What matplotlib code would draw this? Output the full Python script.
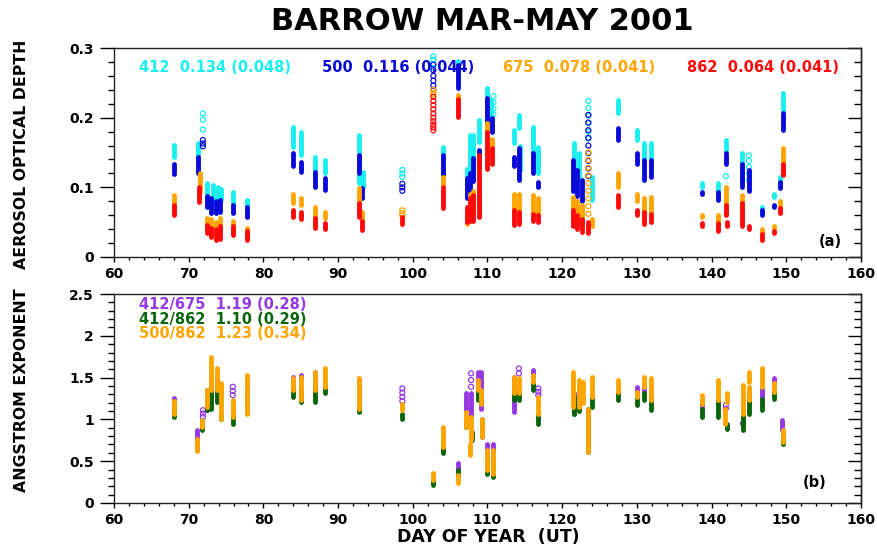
import matplotlib
matplotlib.use("Agg")
import matplotlib.pyplot as plt

# ---------------- Panel (a): aerosol optical depth ----------------
# vertical streaks of dense observations: day, low value, high value
aod412_day = [68.0, 71.2, 72.5, 73.2, 73.9, 74.3, 75.9, 77.8, 83.9, 85.1, 86.9, 88.2,
              92.8, 93.3, 104.0, 106.1, 107.2, 107.6, 108.1, 108.9, 110.0, 110.5,
              113.5, 114.2, 114.3, 116.1, 116.8, 121.6, 122.2, 124.0, 127.5, 130.0,
              131.0, 131.9, 138.7, 140.9, 141.9, 144.1, 146.8, 148.4, 149.2, 149.6]
aod412_lo = [0.144, 0.144, 0.084, 0.082, 0.080, 0.082, 0.075, 0.072, 0.158, 0.146, 0.120, 0.120,
             0.106, 0.101, 0.146, 0.262, 0.094, 0.124, 0.113, 0.165, 0.186, 0.190,
             0.163, 0.185, 0.125, 0.150, 0.120, 0.120, 0.110, 0.082, 0.206, 0.168,
             0.139, 0.139, 0.101, 0.094, 0.154, 0.111, 0.067, 0.086, 0.108, 0.211]
aod412_hi = [0.161, 0.164, 0.106, 0.104, 0.100, 0.098, 0.094, 0.082, 0.187, 0.180, 0.144, 0.139,
             0.175, 0.122, 0.158, 0.282, 0.127, 0.175, 0.175, 0.197, 0.242, 0.225,
             0.182, 0.204, 0.160, 0.187, 0.158, 0.163, 0.150, 0.115, 0.225, 0.182,
             0.163, 0.163, 0.106, 0.106, 0.168, 0.150, 0.072, 0.091, 0.115, 0.235]
aod412_pt_day = [71.9, 71.9, 71.9, 98.6, 98.6, 98.6, 102.75, 102.75, 102.75, 102.75,
                 110.8, 110.8, 110.8, 110.8, 123.5, 123.5, 123.5, 123.5, 123.5, 123.5,
                 141.9, 145.0, 145.0, 145.0, 145.0, 145.0]
aod412_pt_val = [0.206, 0.197, 0.183, 0.125, 0.120, 0.115, 0.288, 0.283, 0.277, 0.271,
                 0.231, 0.222, 0.213, 0.205, 0.224, 0.214, 0.203, 0.192, 0.180, 0.170,
                 0.116, 0.146, 0.138, 0.129, 0.120, 0.111]

aod500_day = [68.0, 71.2, 72.4, 73.0, 73.7, 74.2, 75.9, 77.8, 83.9, 85.1, 86.9, 88.2,
              92.8, 93.2, 104.0, 106.1, 107.2, 107.6, 108.1, 108.9, 110.0, 110.6,
              113.5, 114.2, 116.1, 116.8, 121.4, 122.0, 122.6, 127.5, 130.0, 131.0,
              131.9, 138.7, 140.9, 141.9, 144.1, 145.0, 146.8, 148.4, 149.2, 149.6]
aod500_lo = [0.119, 0.120, 0.072, 0.063, 0.063, 0.065, 0.063, 0.058, 0.130, 0.122, 0.101, 0.096,
             0.120, 0.084, 0.118, 0.242, 0.085, 0.095, 0.109, 0.134, 0.186, 0.180,
             0.130, 0.110, 0.120, 0.101, 0.095, 0.088, 0.080, 0.168, 0.134, 0.110,
             0.115, 0.090, 0.082, 0.134, 0.101, 0.095, 0.060, 0.072, 0.099, 0.183]
aod500_hi = [0.134, 0.144, 0.087, 0.085, 0.080, 0.082, 0.075, 0.072, 0.149, 0.137, 0.122, 0.113,
             0.146, 0.099, 0.146, 0.276, 0.113, 0.120, 0.142, 0.153, 0.228, 0.200,
             0.144, 0.156, 0.150, 0.108, 0.139, 0.125, 0.110, 0.185, 0.150, 0.139,
             0.139, 0.094, 0.094, 0.150, 0.134, 0.125, 0.067, 0.075, 0.108, 0.206]
aod500_pt_day = [71.9, 71.9, 71.9, 98.6, 98.6, 98.6, 102.75, 102.75, 102.75, 102.75, 102.75, 102.75,
                 123.5, 123.5, 123.5, 123.5, 123.5, 123.5, 123.5, 123.5, 123.5]
aod500_pt_val = [0.168, 0.163, 0.159, 0.105, 0.100, 0.095, 0.276, 0.268, 0.260, 0.253, 0.246, 0.240,
                 0.204, 0.193, 0.182, 0.171, 0.160, 0.149, 0.138, 0.127, 0.116]

aod675_day = [68.0, 71.5, 72.4, 73.0, 73.7, 74.2, 75.9, 77.8, 83.9, 85.1, 86.9, 88.2,
              92.8, 93.2, 104.0, 106.1, 107.2, 107.6, 108.1, 108.9, 110.0, 110.6,
              113.5, 114.2, 116.1, 116.8, 121.4, 122.0, 122.6, 124.0, 127.5, 130.0,
              131.0, 131.9, 138.7, 140.9, 141.9, 144.1, 146.8, 148.4, 149.2, 149.6]
aod675_lo = [0.076, 0.094, 0.045, 0.040, 0.034, 0.038, 0.036, 0.032, 0.077, 0.074, 0.058, 0.056,
             0.080, 0.054, 0.103, 0.225, 0.048, 0.060, 0.070, 0.067, 0.173, 0.148,
             0.067, 0.067, 0.062, 0.060, 0.058, 0.055, 0.050, 0.045, 0.101, 0.080,
             0.065, 0.065, 0.058, 0.049, 0.062, 0.053, 0.033, 0.042, 0.072, 0.137]
aod675_hi = [0.089, 0.120, 0.056, 0.054, 0.050, 0.056, 0.051, 0.041, 0.091, 0.085, 0.072, 0.065,
             0.099, 0.065, 0.115, 0.233, 0.065, 0.090, 0.095, 0.091, 0.192, 0.170,
             0.091, 0.091, 0.089, 0.085, 0.086, 0.080, 0.075, 0.055, 0.120, 0.091,
             0.084, 0.086, 0.061, 0.061, 0.101, 0.089, 0.040, 0.045, 0.080, 0.156]
aod675_pt_day = [98.6, 98.6, 98.6, 102.75, 102.75, 102.75,
                 123.5, 123.5, 123.5, 123.5, 123.5, 123.5, 123.5, 123.5, 123.5]
aod675_pt_val = [0.067, 0.063, 0.060, 0.240, 0.236, 0.233,
                 0.150, 0.139, 0.128, 0.117, 0.106, 0.095, 0.084, 0.073, 0.062]

aod862_day = [68.0, 71.4, 72.4, 73.0, 73.7, 74.2, 75.9, 77.8, 83.9, 85.1, 86.9, 88.2,
              92.8, 93.2, 98.6, 104.0, 106.1, 107.2, 107.6, 108.1, 108.9, 110.0, 110.6,
              113.5, 114.2, 116.1, 116.8, 121.4, 122.0, 122.6, 123.5, 127.5, 130.0,
              131.0, 131.9, 138.7, 140.9, 141.9, 142.0, 144.1, 145.0, 146.8, 148.4,
              149.2, 149.6]
aod862_lo = [0.060, 0.079, 0.035, 0.028, 0.024, 0.026, 0.032, 0.025, 0.058, 0.055, 0.041, 0.040,
             0.058, 0.039, 0.048, 0.070, 0.201, 0.050, 0.052, 0.051, 0.058, 0.127, 0.134,
             0.046, 0.048, 0.051, 0.050, 0.045, 0.040, 0.036, 0.034, 0.072, 0.060,
             0.048, 0.050, 0.044, 0.037, 0.060, 0.045, 0.044, 0.040, 0.025, 0.035,
             0.063, 0.117]
aod862_hi = [0.074, 0.101, 0.046, 0.042, 0.040, 0.045, 0.045, 0.037, 0.068, 0.064, 0.056, 0.049,
             0.077, 0.051, 0.058, 0.101, 0.227, 0.072, 0.085, 0.089, 0.146, 0.180, 0.156,
             0.067, 0.065, 0.062, 0.060, 0.067, 0.060, 0.055, 0.050, 0.089, 0.068,
             0.065, 0.062, 0.049, 0.049, 0.075, 0.050, 0.077, 0.045, 0.033, 0.037,
             0.070, 0.134]
aod862_pt_day = [102.75, 102.75, 102.75, 102.75, 102.75, 102.75, 102.75, 102.75, 102.75, 102.75]
aod862_pt_val = [0.230, 0.224, 0.218, 0.212, 0.206, 0.200, 0.195, 0.190, 0.186, 0.182]

# ---------------- Panel (b): Angstrom exponent ----------------
ae412_675_day = [68.0, 71.1, 72.4, 73.0, 73.8, 77.8, 83.9, 85.1, 86.9, 92.8, 106.1, 107.1,
                 107.8, 108.7, 109.1, 109.3, 109.9, 110.7, 113.6, 116.1, 121.6, 130.0,
                 131.0, 138.7, 146.7, 148.4, 149.4]
ae412_675_lo = [1.07, 0.63, 1.11, 1.35, 1.40, 1.23, 1.43, 1.47, 1.47, 1.11, 0.40, 1.11,
                1.03, 1.35, 1.13, 0.79, 0.51, 0.55, 1.09, 1.51, 1.07, 1.31,
                1.31, 1.13, 1.21, 1.43, 0.87]
ae412_675_hi = [1.26, 0.87, 1.35, 1.47, 1.50, 1.39, 1.51, 1.53, 1.57, 1.47, 0.48, 1.31,
                1.31, 1.57, 1.57, 1.00, 0.71, 0.71, 1.51, 1.59, 1.31, 1.39,
                1.39, 1.19, 1.37, 1.49, 0.99]
ae412_675_pt_day = [71.9, 71.9, 71.9, 75.9, 75.9, 75.9, 98.6, 98.6, 98.6, 98.6, 107.8, 107.8, 107.8,
                    114.2, 114.2, 116.8, 116.8, 116.8, 141.9, 141.9, 144.2]
ae412_675_pt_val = [1.11, 1.07, 1.03, 1.39, 1.34, 1.29, 1.37, 1.32, 1.27, 1.22, 1.55, 1.47, 1.39,
                    1.61, 1.55, 1.37, 1.33, 1.29, 1.17, 1.13, 0.95]

ae412_862_day = [68.0, 71.8, 72.4, 73.0, 73.8, 74.3, 75.9, 77.8, 83.9, 85.1, 86.9, 88.2,
                 92.8, 98.6, 102.75, 104.0, 106.1, 107.1, 107.9, 108.7, 110.0, 110.7,
                 113.6, 114.2, 116.1, 116.8, 121.6, 122.3, 123.5, 124.0, 127.5, 130.0,
                 131.0, 131.9, 138.7, 140.9, 142.0, 144.2, 145.0, 146.7, 148.4, 149.5]
ae412_862_lo = [1.03, 0.87, 1.11, 1.13, 1.21, 1.00, 0.95, 1.11, 1.27, 1.21, 1.21, 1.31,
                1.09, 1.01, 0.215, 0.594, 0.335, 0.91, 0.75, 1.23, 0.35, 0.31,
                1.23, 1.23, 1.35, 0.95, 1.07, 1.10, 0.61, 1.15, 1.23, 1.17,
                1.23, 1.11, 1.03, 1.03, 0.89, 0.87, 1.07, 1.11, 1.25, 0.71]
ae412_862_hi = [1.20, 0.99, 1.23, 1.39, 1.35, 1.07, 1.07, 1.31, 1.39, 1.35, 1.39, 1.39,
                1.17, 1.07, 0.275, 0.674, 0.395, 0.95, 0.85, 1.35, 0.51, 0.45,
                1.33, 1.31, 1.43, 1.07, 1.27, 1.23, 1.13, 1.29, 1.33, 1.27,
                1.31, 1.27, 1.13, 1.23, 0.95, 1.07, 1.30, 1.25, 1.33, 0.83]

ae500_862_day = [68.0, 71.1, 71.8, 72.4, 73.0, 73.8, 74.3, 75.9, 77.8, 83.9, 85.1, 86.9,
                 88.2, 92.8, 98.6, 102.75, 104.0, 106.1, 107.1, 107.8, 107.6, 108.7, 109.1,
                 109.2, 110.0, 110.7, 113.6, 114.2, 116.1, 116.8, 121.5, 122.2, 122.8,
                 123.5, 124.0, 127.5, 130.0, 131.0, 131.9, 138.7, 140.9, 142.0, 141.8,
                 144.2, 145.0, 145.0, 146.7, 148.4, 149.5]
ae500_862_lo = [1.07, 0.62, 0.91, 1.15, 1.35, 1.35, 1.00, 1.03, 1.07, 1.35, 1.23, 1.35,
                1.39, 1.13, 1.11, 0.275, 0.674, 0.235, 0.91, 0.75, 0.57, 1.35, 1.19,
                0.79, 0.39, 0.35, 1.31, 1.31, 1.45, 1.07, 1.15, 1.15, 1.20,
                0.61, 1.27, 1.33, 1.27, 1.39, 1.23, 1.19, 1.23, 1.21, 0.95,
                1.07, 1.45, 1.23, 1.39, 1.33, 0.73]
ae500_862_hi = [1.22, 0.76, 0.99, 1.35, 1.75, 1.61, 1.43, 1.23, 1.53, 1.49, 1.51, 1.57,
                1.61, 1.49, 1.19, 0.355, 0.913, 0.335, 1.09, 1.03, 0.71, 1.47, 1.35,
                1.00, 0.63, 0.63, 1.51, 1.49, 1.53, 1.27, 1.57, 1.47, 1.45,
                1.13, 1.51, 1.47, 1.33, 1.51, 1.49, 1.29, 1.47, 1.31, 1.13,
                1.41, 1.57, 1.39, 1.61, 1.43, 0.87]

# labels
aod_labels = ["412  0.134 (0.048)", "500  0.116 (0.044)", "675  0.078 (0.041)", "862  0.064 (0.041)"]
ae_labels = ["412/675  1.19 (0.28)", "412/862  1.10 (0.29)", "500/862  1.23 (0.34)"]

C412, C500, C675, C862 = "#19EEF0", "#0A0AD8", "#FFA500", "#FF0A0A"
CPUR, CGRN, CORG = "#9438E4", "#0A640A", "#FFA500"

FONT = "DejaVu Sans"
W, H = 877, 545
PX = 72 / 100  # points per pixel
fig = plt.figure(figsize=(W / 100, H / 100), dpi=100)
L, R = 114, 861
ax1 = fig.add_axes([L / W, 1 - 257 / H, (R - L) / W, 209 / H])
ax2 = fig.add_axes([L / W, 1 - 503 / H, (R - L) / W, 209 / H])

LW = 3.5
MS = 13


def streaks(ax, d, lo, hi, col, z):
    lc = ax.vlines(d, lo, hi, colors=col, linewidth=LW, zorder=z)
    lc.set_capstyle("round")


def pts(ax, d, v, col, z):
    ax.scatter(d, v, s=MS, facecolors="none", edgecolors=col, linewidths=0.9, zorder=z)


streaks(ax1, aod412_day, aod412_lo, aod412_hi, C412, 2)
pts(ax1, aod412_pt_day, aod412_pt_val, C412, 2)
streaks(ax1, aod500_day, aod500_lo, aod500_hi, C500, 3)
pts(ax1, aod500_pt_day, aod500_pt_val, C500, 3)
streaks(ax1, aod675_day, aod675_lo, aod675_hi, C675, 4)
pts(ax1, aod675_pt_day, aod675_pt_val, C675, 4)
streaks(ax1, aod862_day, aod862_lo, aod862_hi, C862, 5)
pts(ax1, aod862_pt_day, aod862_pt_val, C862, 5)

streaks(ax2, ae412_675_day, ae412_675_lo, ae412_675_hi, CPUR, 2)
pts(ax2, ae412_675_pt_day, ae412_675_pt_val, CPUR, 2)
streaks(ax2, ae412_862_day, ae412_862_lo, ae412_862_hi, CGRN, 3)
streaks(ax2, ae500_862_day, ae500_862_lo, ae500_862_hi, CORG, 4)

for ax, ymax, ymaj, ymin in ((ax1, 0.3, 0.1, 0.02), (ax2, 2.5, 0.5, 0.1)):
    ax.set_xlim(60, 160)
    ax.set_ylim(0, ymax)
    ax.set_xticks(range(60, 161, 10))
    ax.set_xticks(range(60, 161, 2), minor=True)
    ax.set_yticks([round(i * ymaj, 3) for i in range(int(round(ymax / ymaj)) + 1)])
    ax.set_yticks([round(i * ymin, 3) for i in range(int(round(ymax / ymin)) + 1)], minor=True)
    ax.tick_params(axis="x", which="major", direction="out", length=5 * PX, width=1, pad=5 * PX,
                   labelsize=10)
    ax.tick_params(axis="x", which="minor", direction="out", length=3 * PX, width=1)
    ax.tick_params(axis="y", which="major", direction="out", length=14 * PX, width=1, pad=6 * PX,
                   labelsize=10)
    ax.tick_params(axis="y", which="minor", direction="out", length=6 * PX, width=1)
    for lab in ax.get_xticklabels() + ax.get_yticklabels():
        lab.set_fontweight("bold")
        lab.set_family(FONT)
    for sp in ax.spines.values():
        sp.set_linewidth(1.0)
        sp.set_color("#222222")
    sec = ax.secondary_yaxis("right")
    sec.set_yticks(ax.get_yticks())
    sec.set_yticks(ax.get_yticks(minor=True), minor=True)
    sec.tick_params(axis="y", which="major", direction="in", length=13 * PX, width=1, labelright=False)
    sec.tick_params(axis="y", which="minor", direction="in", length=7 * PX, width=1)
    sec.spines["right"].set_linewidth(1.0)
    sec.spines["right"].set_color("#222222")

ax1.yaxis.set_major_formatter(matplotlib.ticker.FuncFormatter(lambda v, p: "0" if v == 0 else f"{v:.1f}"))
ax2.yaxis.set_major_formatter(matplotlib.ticker.FuncFormatter(lambda v, p: f"{v:g}"))

# legend texts panel (a)
for txt, col, xp in zip(aod_labels, [C412, C500, C675, C862], [139, 322, 503, 687]):
    fig.text(xp / W, 1 - 67.5 / H, txt, color=col, fontsize=10.5, fontweight="bold",
             family=FONT, ha="left", va="center")
for txt, col, yp in zip(ae_labels, [CPUR, CGRN, CORG], [304.5, 319, 333.5]):
    fig.text(139 / W, 1 - yp / H, txt, color=col, fontsize=10.5, fontweight="bold",
             family=FONT, ha="left", va="center")

fig.text(830 / W, 1 - 241 / H, "(a)", fontsize=10.5, fontweight="bold", family=FONT,
         ha="center", va="center")
fig.text(815 / W, 1 - 482.5 / H, "(b)", fontsize=10.5, fontweight="bold", family=FONT,
         ha="center", va="center")

fig.text(482.5 / W, 1 - 21 / H, "BARROW MAR-MAY 2001", fontsize=22, fontweight="bold",
         family=FONT, ha="center", va="center")
fig.text(22 / W, 1 - 154 / H, "AEROSOL OPTICAL DEPTH", rotation=90, fontsize=11.3,
         fontweight="bold", family=FONT, ha="center", va="center")
fig.text(22 / W, 1 - 390 / H, "ANGSTROM EXPONENT", rotation=90, fontsize=11.3,
         fontweight="bold", family=FONT, ha="center", va="center")
fig.text(488 / W, 1 - 537.5 / H, "DAY OF YEAR  (UT)", fontsize=12.5, fontweight="bold",
         family=FONT, ha="center", va="center")

fig.savefig("out.png", dpi=100)
